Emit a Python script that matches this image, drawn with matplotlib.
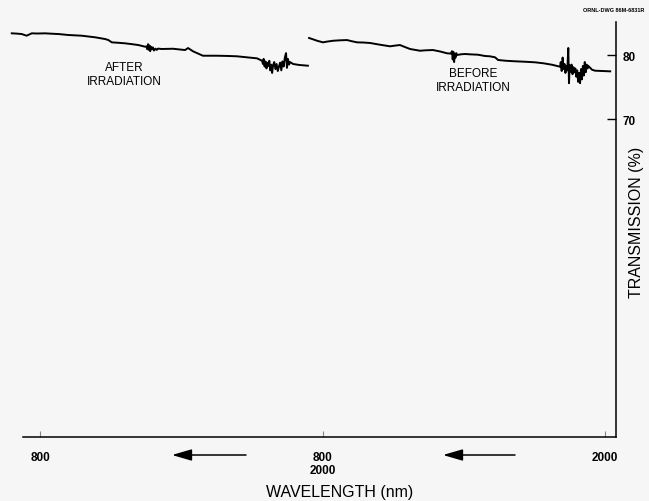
import matplotlib
matplotlib.use("Agg")
import matplotlib.pyplot as plt
import numpy as np

plt.rcParams['font.family'] = ['Liberation Sans', 'DejaVu Sans']

# Transmission scans (wavelength in nm, transmission in %)
after_wl = [680, 700, 722, 743, 765, 790, 821, 850, 878, 920, 977, 1034, 1076, 1090,
            1105, 1130, 1161, 1190, 1218, 1246,
            1252, 1256, 1259, 1262, 1265, 1268, 1271, 1275, 1279, 1284, 1290, 1296, 1301,
            1317, 1340, 1365, 1390, 1416, 1429, 1450, 1470, 1492, 1552, 1600, 1637, 1679,
            1722, 1743,
            1747, 1750, 1754, 1758, 1762, 1766, 1770, 1774, 1778, 1782, 1786, 1790, 1795,
            1800, 1805, 1810, 1815, 1820, 1825, 1830, 1835, 1840, 1845, 1849, 1853, 1858,
            1862, 1875, 1900, 1938]
after_T = [83.39, 83.35, 83.28, 83.02, 83.39, 83.36, 83.39, 83.33, 83.28, 83.13, 83.02,
           82.77, 82.50, 82.35, 81.98, 81.92, 81.83, 81.70, 81.56, 81.30,
           81.35, 80.9, 81.7, 80.8, 81.5, 80.6, 81.3, 80.9, 81.2, 80.7, 81.0, 80.8, 81.0,
           80.94, 80.96, 80.98, 80.88, 80.78, 81.09, 80.58, 80.25, 79.89, 79.89, 79.85,
           79.80, 79.64, 79.48, 79.11,
           78.6, 79.4, 78.2, 79.0, 77.9, 78.8, 78.3, 79.1, 77.6, 78.5, 77.2, 78.4, 78.9,
           77.8, 78.6, 77.5, 78.2, 78.8, 77.6, 79.0, 78.2, 79.6, 80.3, 78.0, 79.4, 78.5,
           78.9, 78.60, 78.45, 78.33]

before_wl = [743, 760, 777, 790, 802, 820, 845, 875, 904, 925, 947, 975, 1002, 1044,
             1087, 1110, 1129, 1150, 1172, 1214, 1240, 1269, 1300, 1329, 1345,
             1350, 1353, 1356, 1359, 1362, 1365, 1368, 1371,
             1390, 1405, 1430, 1460, 1490, 1511, 1533, 1546, 1580, 1618, 1660, 1703,
             1740, 1775, 1795, 1809,
             1812, 1816, 1820, 1824, 1828, 1832, 1836, 1840, 1844, 1847, 1850, 1854,
             1858, 1862, 1866, 1870, 1874, 1878, 1882, 1886, 1890, 1894, 1898, 1902,
             1906, 1910, 1914, 1918, 1922, 1926,
             1928, 1945, 1958, 1990, 2022]
before_T = [82.66, 82.45, 82.23, 82.10, 81.98, 82.10, 82.23, 82.30, 82.34, 82.15, 81.98,
            81.95, 81.88, 81.61, 81.36, 81.48, 81.56, 81.25, 80.94, 80.67, 80.74, 80.78,
            80.55, 80.27, 80.22,
            80.6, 79.3, 80.5, 78.9, 80.1, 79.6, 80.3, 80.0,
            80.12, 80.16, 80.10, 80.05, 79.85, 79.80, 79.64, 79.22, 79.10, 79.02, 78.95,
            78.86, 78.70, 78.48, 78.30, 78.17,
            78.9, 77.5, 79.6, 77.8, 78.6, 77.2, 78.3, 77.6, 81.1, 75.6, 78.4, 77.4,
            78.5, 77.0, 78.1, 77.3, 77.9, 76.6, 77.6, 75.8, 77.2, 75.6, 77.8, 76.2,
            78.3, 76.8, 78.9, 77.3, 78.5, 77.9,
            78.33, 77.70, 77.55, 77.50, 77.45]

tick_pos = [0, 1, 2]
tick_labels = ['800', '800\n2000', '2000']
y_ticks = [70, 80]

WL_MIN, WL_MAX = 800, 2000


def panel_x(wl, panel):
    """Place a wavelength on the shared axis; each panel spans one unit."""
    wl = np.asarray(wl, dtype=float)
    return panel + (wl - WL_MIN) / (WL_MAX - WL_MIN)


BG = '#f6f6f6'
fig = plt.figure(figsize=(6.49, 5.02), dpi=100, facecolor=BG)
ax = fig.add_axes([5 / 649, 64 / 502, 611 / 649, 415 / 502], facecolor=BG)

ax.plot(panel_x(after_wl, 0), after_T, color='black', lw=1.4, solid_joinstyle='round')
ax.plot(panel_x(before_wl, 1), before_T, color='black', lw=1.4, solid_joinstyle='round')

ax.set_xlim(-0.1239, 2.0389)
ax.set_ylim(20.31, 85.16)

for side in ('top', 'left'):
    ax.spines[side].set_visible(False)
ax.spines['bottom'].set_bounds(-0.06, 2.0389)
ax.spines['bottom'].set_linewidth(1.1)
ax.spines['right'].set_linewidth(1.1)

ax.yaxis.tick_right()
ax.set_yticks(y_ticks)
ax.set_yticklabels([str(v) for v in y_ticks], fontsize=8.5, fontweight='bold')
ax.tick_params(axis='y', direction='in', length=6.5, width=1, pad=5)

ax.set_xticks(tick_pos)
ax.set_xticklabels(tick_labels, fontsize=8.5, fontweight='bold', linespacing=1.1)
ax.tick_params(axis='x', direction='in', length=4, width=0.8, color='#888888', pad=10)

fig.text(637 / 649, 1 - 222 / 502, 'TRANSMISSION (%)', fontsize=11.5, rotation=90,
         ha='center', va='center')
fig.text(340 / 649, 1 - 493 / 502, 'WAVELENGTH (nm)', fontsize=11.5,
         ha='center', va='center')

fig.text(124 / 649, 1 - 75 / 502, 'AFTER\nIRRADIATION', fontsize=8.5, ha='center',
         va='center', linespacing=1.2)
fig.text(473 / 649, 1 - 81 / 502, 'BEFORE\nIRRADIATION', fontsize=8.5, ha='center',
         va='center', linespacing=1.2)
fig.text(644 / 649, 1 - 11 / 502, 'ORNL-DWG 86M-6831R', fontsize=4, fontweight='bold',
         ha='right', va='center')

# scan-direction arrows
for x0, x1 in [(246, 172), (515, 443)]:
    ax.annotate('', xy=(x1, 502 - 456), xytext=(x0, 502 - 456),
                xycoords='figure pixels', textcoords='figure pixels',
                arrowprops=dict(arrowstyle='-|>,head_length=1.2,head_width=0.35',
                                color='black', lw=1.1, shrinkA=0, shrinkB=0))

fig.savefig('out.png', dpi=100, facecolor=BG)
